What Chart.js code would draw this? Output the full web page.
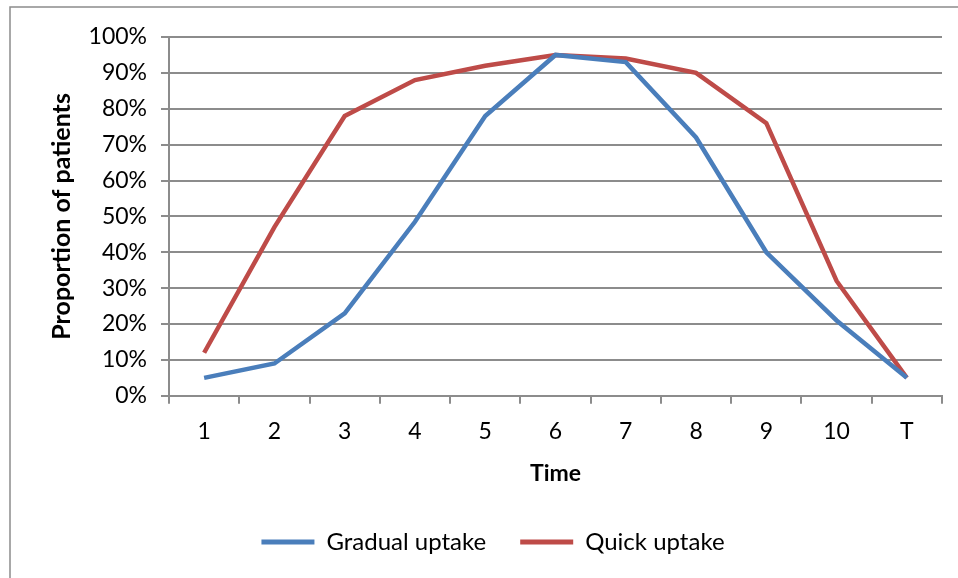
<!DOCTYPE html>
<html><head><meta charset="utf-8">
<script src="https://cdn.jsdelivr.net/npm/chart.js@4/dist/chart.umd.min.js"></script>
<style>html,body{margin:0;padding:0;background:#fff;}#wrap{width:958px;height:578px;position:relative;}</style>
</head><body><div id="wrap"><canvas id="c" width="958" height="578"></canvas></div>
<script>
const categories = ['1','2','3','4','5','6','7','8','9','10','T'];
const gradualUptake = [5, 9, 23, 48.5, 78, 95, 93, 72, 40, 21, 5];
const quickUptake = [12, 47, 78, 88, 92, 95, 94, 90, 76, 32, 5];
const yTicks = [0,10,20,30,40,50,60,70,80,90,100];

const FONT = 'Lato, "Open Sans", sans-serif';
const borderPlugin = {
  id: 'outerBorder',
  beforeDraw(chart) {
    const ctx = chart.ctx;
    ctx.save();
    ctx.fillStyle = '#fff';
    ctx.fillRect(0, 0, chart.width, chart.height);
    ctx.strokeStyle = '#8c8c8c';
    ctx.lineWidth = 1.5;
    ctx.strokeRect(10, 7, 1000, 1000);
    ctx.restore();
  }
};
const legendShift = {
  id: 'legendShift',
  afterUpdate(chart) {
    const lg = chart.legend;
    if (!lg || lg._shifted) return;
    const orig = lg.draw.bind(lg);
    lg.draw = function () {
      const ctx = chart.ctx;
      ctx.save();
      ctx.translate(12, 0);
      orig();
      ctx.restore();
    };
    lg._shifted = true;
  }
};

new Chart(document.getElementById('c'), {
  type: 'line',
  data: {
    labels: categories,
    datasets: [
      { label: 'Gradual uptake', data: gradualUptake, borderColor: '#4a7ebb', backgroundColor: '#4a7ebb', borderWidth: 4.5, pointRadius: 0, tension: 0 },
      { label: 'Quick uptake', data: quickUptake, borderColor: '#be4b48', backgroundColor: '#be4b48', borderWidth: 4.5, pointRadius: 0, tension: 0 }
    ]
  },
  options: {
    responsive: false,
    animation: false,
    layout: { padding: { left: 20, right: 16, top: 37, bottom: 14 } },
    plugins: {
      tooltip: { enabled: false },
      legend: {
        position: 'bottom',
        labels: {
          font: { family: FONT, size: 24 },
          color: '#000',
          boxWidth: 53, boxHeight: 5,
          padding: 34,
          generateLabels(chart) {
            return chart.data.datasets.map((d, i) => ({
              text: d.label, fillStyle: d.borderColor, strokeStyle: d.borderColor, lineWidth: 0, datasetIndex: i, hidden: false
            }));
          }
        }
      }
    },
    scales: {
      x: {
        offset: true,
        grid: { offset: true, drawOnChartArea: false, drawTicks: true, tickLength: 8, color: '#8c8c8c', lineWidth: 2 },
        border: { color: '#8c8c8c', width: 2 },
        ticks: { font: { family: FONT, size: 23 }, color: '#000', padding: 14, maxRotation: 0, autoSkip: false },
        title: { display: true, text: 'Time', font: { family: FONT, size: 23, weight: 'bold' }, color: '#000', padding: { top: 0, bottom: 9 } }
      },
      y: {
        min: 0, max: 100,
        afterBuildTicks(scale) { scale.ticks = yTicks.map(v => ({ value: v })); },
        afterFit(scale) { scale.width = 149; },
        grid: { color: '#8c8c8c', lineWidth: 2, tickLength: 8 },
        border: { color: '#8c8c8c', width: 2 },
        ticks: { font: { family: FONT, size: 23 }, color: '#000', padding: 14, callback: v => v + '%' },
        title: { display: true, text: 'Proportion of patients', font: { family: FONT, size: 25, weight: 'bold' }, color: '#000', padding: { top: 27, bottom: 0 } }
      }
    }
  },
  plugins: [borderPlugin, legendShift]
});
</script></body></html>
